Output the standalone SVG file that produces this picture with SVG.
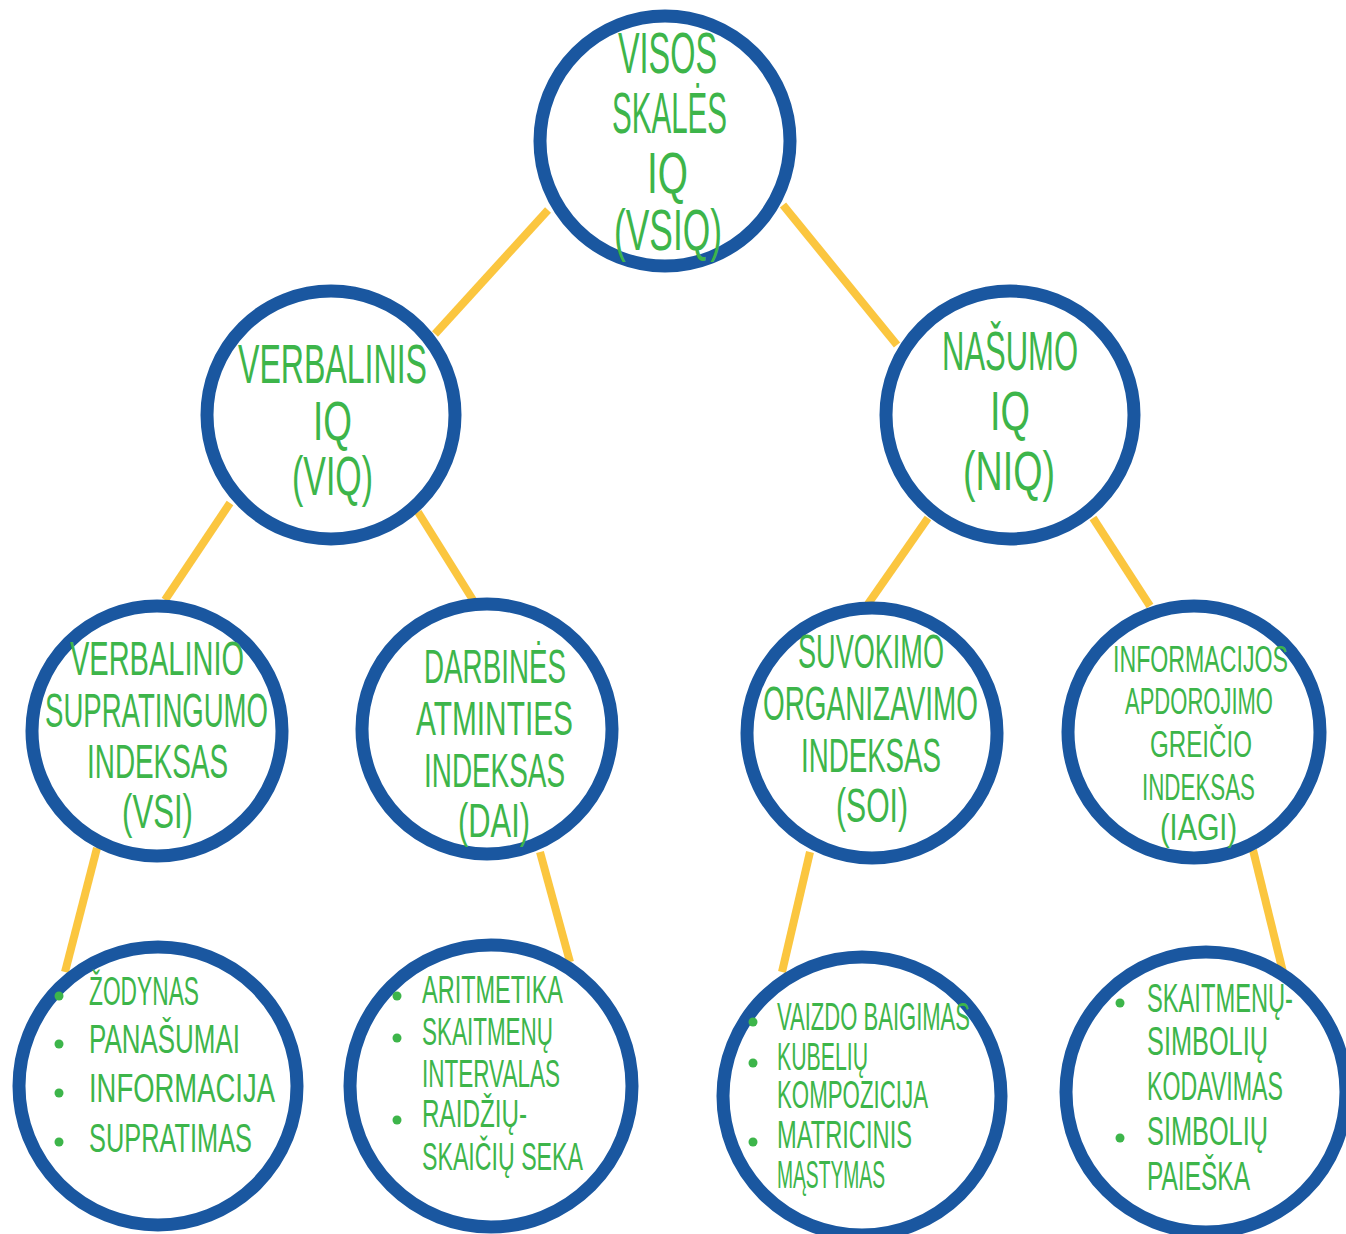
<svg xmlns="http://www.w3.org/2000/svg" width="1346" height="1234" viewBox="0 0 1346 1234">
<style>
.c{fill:#fff;stroke:#1a57a0;stroke-width:13}
.t{fill:#3db54a;font-family:"Liberation Sans Narrow","Liberation Sans",sans-serif;font-weight:normal}
.l{stroke:#fbc63f;stroke-width:8;stroke-linecap:butt;fill:none}
.b{fill:#3db54a}
</style>
<rect width="1346" height="1234" fill="#fff"/>
<g id="connectors">
<line class="l" x1="548" y1="210" x2="435" y2="334"/>
<line class="l" x1="783" y1="205" x2="897" y2="345"/>
<line class="l" x1="230" y1="503" x2="165" y2="600"/>
<line class="l" x1="418" y1="512" x2="473" y2="600"/>
<line class="l" x1="928" y1="518" x2="868" y2="604"/>
<line class="l" x1="1093" y1="518" x2="1150" y2="606"/>
<line class="l" x1="97" y1="848" x2="65" y2="972"/>
<line class="l" x1="540" y1="852" x2="570" y2="962"/>
<line class="l" x1="810" y1="852" x2="782" y2="972"/>
<line class="l" x1="1253" y1="850" x2="1283" y2="972"/>
</g>
<g id="vsiq">
<circle class="c" cx="665" cy="141" r="125"/>
<text class="t" font-size="58"><tspan x="618" y="73" textLength="99" lengthAdjust="spacingAndGlyphs">VISOS</tspan><tspan x="612" y="133" textLength="115" lengthAdjust="spacingAndGlyphs">SKALĖS</tspan><tspan x="647" y="193" textLength="41" lengthAdjust="spacingAndGlyphs">IQ</tspan><tspan x="614" y="250" textLength="108" lengthAdjust="spacingAndGlyphs">(VSIQ)</tspan></text>
</g>
<g id="viq">
<circle class="c" cx="331" cy="415" r="124"/>
<text class="t" font-size="56"><tspan x="238" y="383" textLength="189" lengthAdjust="spacingAndGlyphs">VERBALINIS</tspan><tspan x="313" y="440" textLength="39" lengthAdjust="spacingAndGlyphs">IQ</tspan><tspan x="292" y="495" textLength="81" lengthAdjust="spacingAndGlyphs">(VIQ)</tspan></text>
</g>
<g id="niq">
<circle class="c" cx="1010" cy="415" r="124"/>
<text class="t" font-size="56"><tspan x="942" y="370" textLength="136" lengthAdjust="spacingAndGlyphs">NAŠUMO</tspan><tspan x="990" y="430" textLength="40" lengthAdjust="spacingAndGlyphs">IQ</tspan><tspan x="963" y="490" textLength="92" lengthAdjust="spacingAndGlyphs">(NIQ)</tspan></text>
</g>
<g id="vsi">
<circle class="c" cx="157" cy="731" r="125"/>
<text class="t" font-size="49"><tspan x="70" y="675" textLength="174" lengthAdjust="spacingAndGlyphs">VERBALINIO</tspan><tspan x="45" y="727" textLength="223" lengthAdjust="spacingAndGlyphs">SUPRATINGUMO</tspan><tspan x="87" y="778" textLength="141" lengthAdjust="spacingAndGlyphs">INDEKSAS</tspan><tspan x="122" y="828" textLength="71" lengthAdjust="spacingAndGlyphs">(VSI)</tspan></text>
</g>
<g id="dai">
<circle class="c" cx="487" cy="729" r="125"/>
<text class="t" font-size="49"><tspan x="424" y="683" textLength="142" lengthAdjust="spacingAndGlyphs">DARBINĖS</tspan><tspan x="416" y="735" textLength="157" lengthAdjust="spacingAndGlyphs">ATMINTIES</tspan><tspan x="424" y="787" textLength="141" lengthAdjust="spacingAndGlyphs">INDEKSAS</tspan><tspan x="458" y="837" textLength="72" lengthAdjust="spacingAndGlyphs">(DAI)</tspan></text>
</g>
<g id="soi">
<circle class="c" cx="872" cy="733" r="125"/>
<text class="t" font-size="49"><tspan x="798" y="668" textLength="146" lengthAdjust="spacingAndGlyphs">SUVOKIMO</tspan><tspan x="763" y="720" textLength="215" lengthAdjust="spacingAndGlyphs">ORGANIZAVIMO</tspan><tspan x="801" y="772" textLength="140" lengthAdjust="spacingAndGlyphs">INDEKSAS</tspan><tspan x="836" y="822" textLength="72" lengthAdjust="spacingAndGlyphs">(SOI)</tspan></text>
</g>
<g id="iagi">
<circle class="c" cx="1194" cy="732" r="126"/>
<text class="t" font-size="37"><tspan x="1113" y="672" textLength="175" lengthAdjust="spacingAndGlyphs">INFORMACIJOS</tspan><tspan x="1125" y="714" textLength="148" lengthAdjust="spacingAndGlyphs">APDOROJIMO</tspan><tspan x="1150" y="757" textLength="102" lengthAdjust="spacingAndGlyphs">GREIČIO</tspan><tspan x="1142" y="800" textLength="113" lengthAdjust="spacingAndGlyphs">INDEKSAS</tspan><tspan x="1160" y="840" textLength="77" lengthAdjust="spacingAndGlyphs">(IAGI)</tspan></text>
</g>
<g id="vsi-subtests">
<circle class="c" cx="158" cy="1086" r="139"/>
<circle class="b" cx="59" cy="996" r="4.5"/><circle class="b" cx="59" cy="1044" r="4.5"/><circle class="b" cx="59" cy="1093" r="4.5"/><circle class="b" cx="59" cy="1142" r="4.5"/>
<text class="t" font-size="41"><tspan x="89" y="1005" textLength="110" lengthAdjust="spacingAndGlyphs">ŽODYNAS</tspan><tspan x="89" y="1053" textLength="151" lengthAdjust="spacingAndGlyphs">PANAŠUMAI</tspan><tspan x="89" y="1102" textLength="186" lengthAdjust="spacingAndGlyphs">INFORMACIJA</tspan><tspan x="89" y="1152" textLength="163" lengthAdjust="spacingAndGlyphs">SUPRATIMAS</tspan></text>
</g>
<g id="dai-subtests">
<circle class="c" cx="491" cy="1086" r="141"/>
<circle class="b" cx="397" cy="996" r="4.5"/><circle class="b" cx="397" cy="1038" r="4.5"/><circle class="b" cx="397" cy="1120" r="4.5"/>
<text class="t" font-size="39"><tspan x="422" y="1003" textLength="141" lengthAdjust="spacingAndGlyphs">ARITMETIKA</tspan><tspan x="422" y="1045" textLength="131" lengthAdjust="spacingAndGlyphs">SKAITMENŲ</tspan><tspan x="422" y="1087" textLength="138" lengthAdjust="spacingAndGlyphs">INTERVALAS</tspan><tspan x="422" y="1127" textLength="105" lengthAdjust="spacingAndGlyphs">RAIDŽIŲ-</tspan><tspan x="422" y="1170" textLength="161" lengthAdjust="spacingAndGlyphs">SKAIČIŲ SEKA</tspan></text>
</g>
<g id="soi-subtests">
<circle class="c" cx="862" cy="1096" r="139"/>
<circle class="b" cx="753" cy="1022" r="4.5"/><circle class="b" cx="753" cy="1063" r="4.5"/><circle class="b" cx="753" cy="1142" r="4.5"/>
<text class="t" font-size="38"><tspan x="777" y="1030" textLength="193" lengthAdjust="spacingAndGlyphs">VAIZDO BAIGIMAS</tspan><tspan x="777" y="1070" textLength="91" lengthAdjust="spacingAndGlyphs">KUBELIŲ</tspan><tspan x="777" y="1108" textLength="151" lengthAdjust="spacingAndGlyphs">KOMPOZICIJA</tspan><tspan x="777" y="1148" textLength="135" lengthAdjust="spacingAndGlyphs">MATRICINIS</tspan><tspan x="777" y="1188" textLength="108" lengthAdjust="spacingAndGlyphs">MĄSTYMAS</tspan></text>
</g>
<g id="iagi-subtests">
<circle class="c" cx="1206" cy="1092" r="140"/>
<circle class="b" cx="1120" cy="1003" r="4.5"/><circle class="b" cx="1120" cy="1138" r="4.5"/>
<text class="t" font-size="40"><tspan x="1147" y="1012" textLength="146" lengthAdjust="spacingAndGlyphs">SKAITMENŲ-</tspan><tspan x="1147" y="1055" textLength="121" lengthAdjust="spacingAndGlyphs">SIMBOLIŲ</tspan><tspan x="1147" y="1100" textLength="136" lengthAdjust="spacingAndGlyphs">KODAVIMAS</tspan><tspan x="1147" y="1145" textLength="121" lengthAdjust="spacingAndGlyphs">SIMBOLIŲ</tspan><tspan x="1147" y="1190" textLength="103" lengthAdjust="spacingAndGlyphs">PAIEŠKA</tspan></text>
</g>
</svg>
